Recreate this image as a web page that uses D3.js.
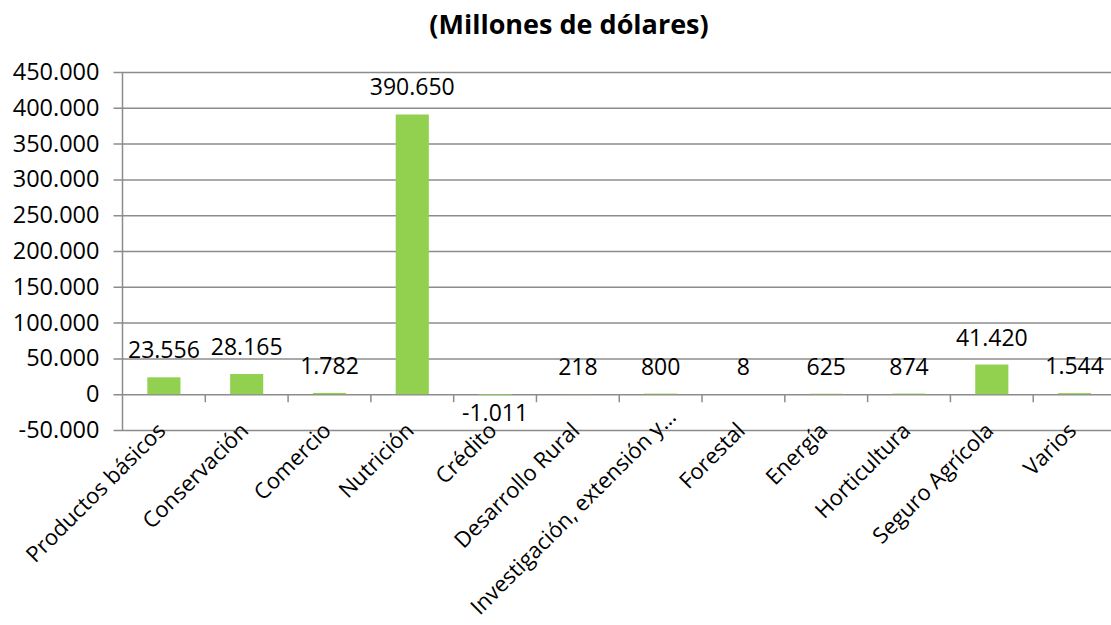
<!DOCTYPE html>
<html>
<head>
<meta charset="utf-8">
<script src="https://cdn.jsdelivr.net/npm/d3@7"></script>
<style>
  body { margin: 0; background: #fff; }
  svg { display: block; }
</style>
</head>
<body>
<svg id="chart"></svg>
<script>
const categories = ['Productos básicos', 'Conservación', 'Comercio', 'Nutrición', 'Crédito',
  'Desarrollo Rural', 'Investigación, extensión y…', 'Forestal', 'Energía', 'Horticultura',
  'Seguro Agrícola', 'Varios']
const values = [23556, 28165, 1782, 390650, -1011, 218, 800, 8, 625, 874, 41420, 1544]
const yTicks = [-50000, 0, 50000, 100000, 150000, 200000, 250000, 300000, 350000, 400000, 450000]
const title = '(Millones de dólares)'

const width = 1111
const height = 625
const fontFamily = "'Open Sans', sans-serif"
const gridColor = '#8c8c8c'
const barColor = '#92d050'

const locale = d3.formatLocale({ decimal: ',', thousands: '.', grouping: [3], currency: ['$', ''], minus: '-' })
const fmt = locale.format(',d')

const svg = d3.select('#chart')
  .attr('width', width)
  .attr('height', height)

const x = d3.scaleBand()
  .domain(categories)
  .range([122.5, 1116])
  .paddingInner(0.6)
  .paddingOuter(0.3)

const xTicks = d3.scaleBand().domain(categories).range([122.5, 1116])

const y = d3.scaleLinear()
  .domain([-50000, 450000])
  .range([430, 72])

svg.append('text')
  .attr('x', 569)
  .attr('y', 34)
  .attr('text-anchor', 'middle')
  .attr('font-family', fontFamily)
  .attr('font-weight', 'bold')
  .attr('font-size', '27px')
  .attr('fill', '#000')
  .text(title)

// horizontal gridlines + y labels
const yAxis = d3.axisLeft(y)
  .tickValues(yTicks)
  .tickSize(-(width - 114))
  .tickPadding(23)
  .tickFormat(fmt)

const gy = svg.append('g')
  .attr('transform', 'translate(122.5,0)')
  .call(yAxis)

gy.select('.domain').remove()
gy.selectAll('.tick line')
  .attr('x1', -9)
  .attr('stroke', gridColor)
  .attr('stroke-width', 1.5)
gy.selectAll('.tick text')
  .attr('font-family', fontFamily)
  .attr('font-size', '23.5px')
  .attr('fill', '#000')

// vertical axis line
svg.append('line')
  .attr('x1', 122.5).attr('x2', 122.5)
  .attr('y1', y(450000)).attr('y2', y(-50000))
  .attr('stroke', gridColor)
  .attr('stroke-width', 1.5)

// category ticks on the zero line
svg.append('g')
  .selectAll('line')
  .data(categories)
  .join('line')
  .attr('x1', d => xTicks(d) + xTicks.bandwidth())
  .attr('x2', d => xTicks(d) + xTicks.bandwidth())
  .attr('y1', y(0))
  .attr('y2', y(0) + 8)
  .attr('stroke', gridColor)
  .attr('stroke-width', 1.5)

// bars
svg.append('g')
  .selectAll('rect')
  .data(values)
  .join('rect')
  .attr('x', (d, i) => x(categories[i]))
  .attr('width', x.bandwidth())
  .attr('y', d => y(Math.max(0, d)))
  .attr('height', d => Math.abs(y(d) - y(0)))
  .attr('fill', barColor)

// data labels
svg.append('g')
  .selectAll('text')
  .data(values)
  .join('text')
  .attr('x', (d, i) => x(categories[i]) + x.bandwidth() / 2)
  .attr('y', d => d >= 0 ? y(d) - 19 : y(d) + 26)
  .attr('text-anchor', 'middle')
  .attr('font-family', fontFamily)
  .attr('font-size', '23px')
  .attr('fill', '#000')
  .text(d => fmt(d))

// category labels, rotated; long ones are pushed up along their slope so they stay on the page
const s = Math.SQRT1_2
svg.append('g')
  .selectAll('text')
  .data(categories)
  .join('text')
  .attr('text-anchor', 'end')
  .attr('font-family', fontFamily)
  .attr('font-size', '22px')
  .attr('fill', '#000')
  .text(d => d)
  .each(function (d) {
    const len = this.getComputedTextLength()
    let px = xTicks(d) + xTicks.bandwidth() / 2 + 3
    let py = y(-50000) + 2
    const bottom = py + len * s + 6
    const over = bottom - (height - 3)
    if (over > 0) { px += over; py -= over }
    d3.select(this).attr('transform', `translate(${px},${py}) rotate(-45)`)
  })
</script>
</body>
</html>
